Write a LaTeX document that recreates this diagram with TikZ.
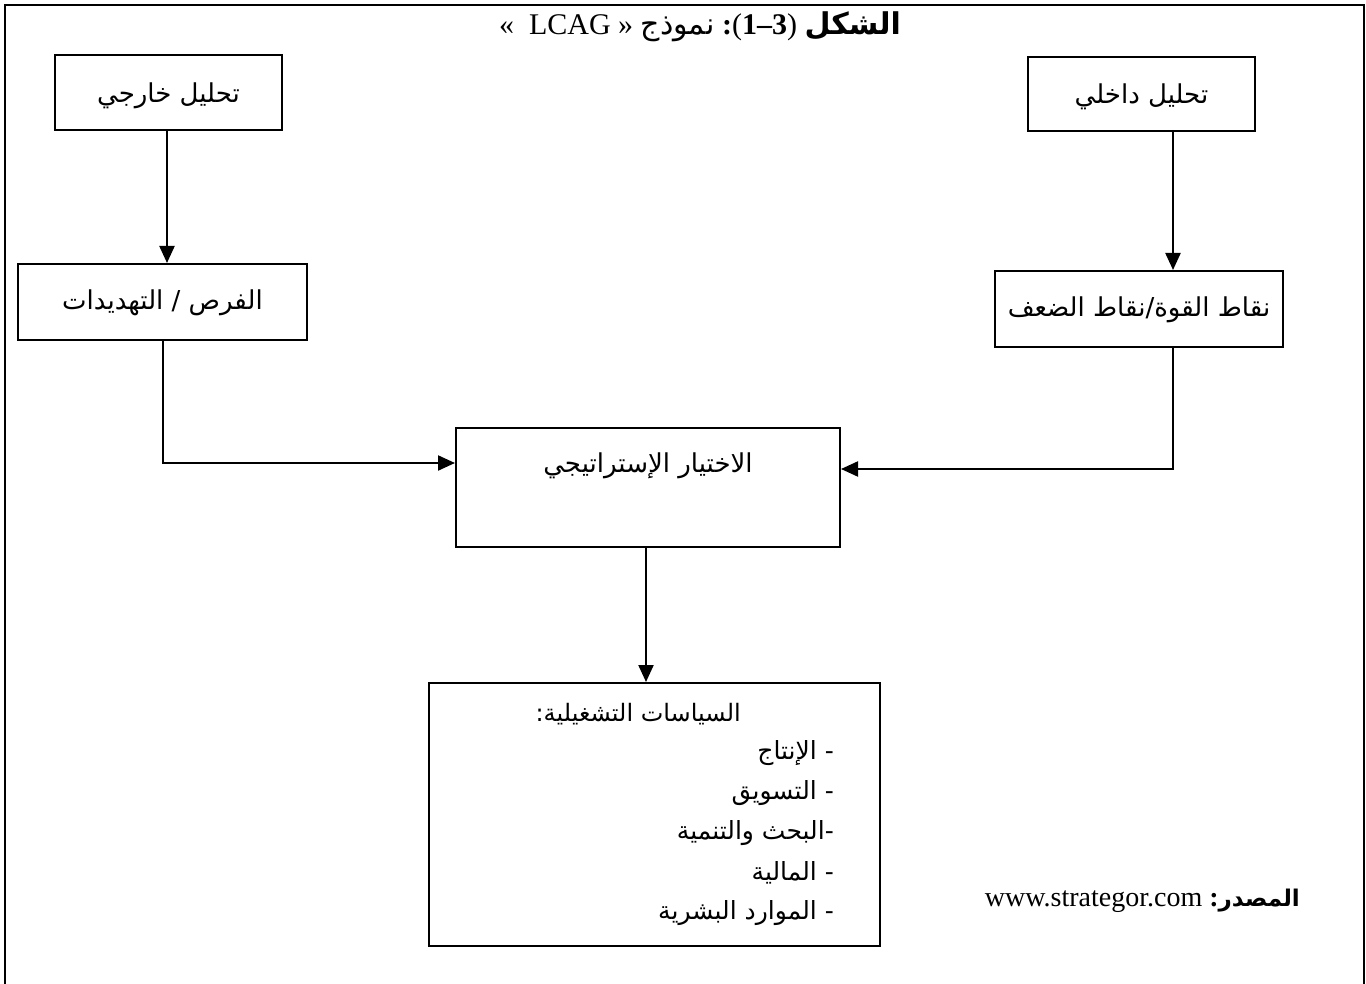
\documentclass[tikz,border=0pt]{standalone}
\usepackage{fontspec}
\setmainfont{Liberation Serif}
\newfontfamily\arabicfont[Script=Arabic]{DejaVu Sans}
\TeXXeTstate=1
\usetikzlibrary{arrows.meta}
% right-to-left Arabic run
\newcommand\artxt[1]{{\arabicfont\beginR #1\endR}}

\tikzset{
  frameline/.style={line width=2pt},
  stagebox/.style={draw, line width=2pt, inner sep=0pt},
  boxtext/.style={font=\fontsize{26}{30}\selectfont, inner sep=0pt},
  listtext/.style={font=\fontsize{25}{29}\selectfont, inner sep=0pt, anchor=east},
  flow/.style={line width=2.2pt, -{Triangle[length=17pt,width=15pt]}},
}

\begin{document}
\begin{tikzpicture}[x=1pt,y=-1pt]
\useasboundingbox (0,0) rectangle (1366,984);

% page frame (open at the bottom)
\draw[frameline] (5,984) -- (5,5) -- (1364,5) -- (1364,984);

% heading
\node[inner sep=0pt, font=\fontsize{30}{34}\selectfont] (title) at (700,27)
  {«\ \ LCAG\ » \artxt{نموذج}\ \textbf{:}(\textbf{1–3})\ \artxt{\bfseries الشكل}};

% boxes
\node[stagebox, minimum width=227pt, minimum height=75pt] (ext) at (168.5,92.5) {};
\node[boxtext] (extlbl) at (168.5,96) {\artxt{تحليل خارجي}};

\node[stagebox, minimum width=227pt, minimum height=74pt] (int) at (1141.5,94) {};
\node[boxtext] (intlbl) at (1141.5,97) {\artxt{تحليل داخلي}};

\node[stagebox, minimum width=289pt, minimum height=76pt] (opp) at (162.5,302) {};
\node[boxtext] (opplbl) at (162.5,303) {\artxt{الفرص / التهديدات}};

\node[stagebox, minimum width=288pt, minimum height=76pt] (sw) at (1139,309) {};
\node[boxtext] (swlbl) at (1139,310) {\artxt{نقاط القوة/نقاط الضعف}};

\node[stagebox, minimum width=384pt, minimum height=119pt] (choice) at (648,487.5) {};
\node[boxtext] (choicelbl) at (648,466) {\artxt{الاختيار الإستراتيجي}};

\node[stagebox, minimum width=451pt, minimum height=263pt] (pol) at (654.5,814.5) {};
\node[listtext, font=\fontsize{24}{28}\selectfont] (polhead) at (741,714) {\artxt{السياسات التشغيلية:}};
\node[listtext] (pol1) at (834,753) {\artxt{- الإنتاج}};
\node[listtext] (pol2) at (834,793) {\artxt{- التسويق}};
\node[listtext] (pol3) at (834,833) {\artxt{-البحث والتنمية}};
\node[listtext] (pol4) at (834,873) {\artxt{- المالية}};
\node[listtext] (pol5) at (834,913) {\artxt{- الموارد البشرية}};

% source line
\node[inner sep=0pt, anchor=east, font=\fontsize{28}{32}\selectfont] (src) at (1300,901)
  {www.strategor.com \textbf{:}{\fontsize{23}{27}\selectfont\artxt{\bfseries المصدر}}};

% routing columns and rows
\coordinate (colL) at (167,0);
\coordinate (colR) at (1173,0);
\coordinate (colD) at (163,0);
\coordinate (rowL) at (0,463);
\coordinate (rowR) at (0,469);
\coordinate (colM) at (646,0);

% connectors
\draw[flow] (ext.south -| colL) -- (opp.north -| colL);
\draw[flow] (int.south -| colR) -- (sw.north -| colR);
\draw[flow] (opp.south -| colD) -- (colD |- rowL) -- (choice.west |- rowL);
\draw[flow] (sw.south -| colR) -- (colR |- rowR) -- (choice.east |- rowR);
\draw[flow] (choice.south -| colM) -- (pol.north -| colM);
\end{tikzpicture}
\end{document}
